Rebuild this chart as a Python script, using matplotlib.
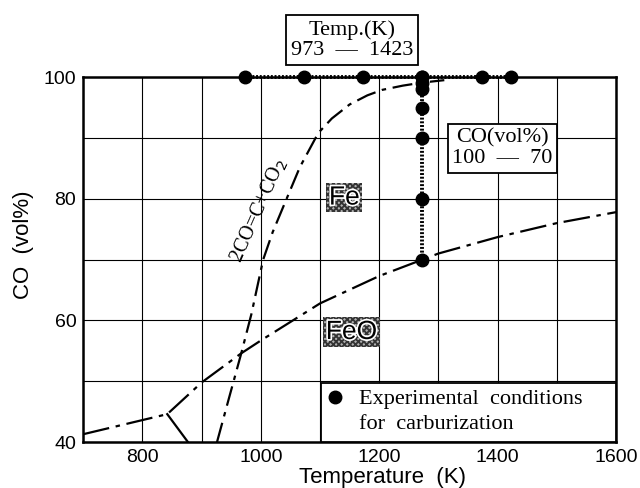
import matplotlib.pyplot as plt
import matplotlib.patheffects as pe
from matplotlib.patches import Rectangle

# experimental carburization conditions
temp_row = [973, 1073, 1173, 1273, 1373, 1423]
co_row = [100, 100, 100, 100, 100, 100]
temp_col = [1273, 1273, 1273, 1273, 1273, 1273, 1273]
co_col = [100, 99, 98, 95, 90, 80, 70]

# 2CO = C + CO2 equilibrium
boud_t = [926, 947, 967, 984, 1004, 1020, 1038, 1066, 1097, 1120, 1150, 1180, 1205, 1240, 1273, 1310]
boud_co = [40, 47.5, 54.6, 61, 70, 74.5, 78.7, 85.2, 90.8, 93.2, 95.5, 97.0, 97.9, 98.6, 99.1, 99.5]

# Fe / FeO boundary
feo_t = [700, 842, 900, 967, 1000, 1100, 1200, 1273, 1300, 1400, 1500, 1600]
feo_co = [41.3, 44.6, 49.8, 54.6, 56.7, 62.8, 67.3, 70, 71, 73.7, 76, 77.8]

# short branch below the kink
low_t = [842, 877]
low_co = [44.6, 40]

plt.rcParams['font.family'] = ['Liberation Sans', 'DejaVu Sans']
plt.rcParams['hatch.linewidth'] = 1.3
serif = 'Liberation Serif'

fig = plt.figure(figsize=(6.4, 4.88), dpi=100)
ax = fig.add_axes([0.130, 0.094, 0.8325, 0.748])

ax.set_xlim(700, 1600)
ax.set_ylim(40, 100)
ax.set_xticks(range(700, 1601, 100))
ax.set_xticklabels(['' if t % 200 else str(t) for t in range(700, 1601, 100)])
ax.set_yticks(range(40, 101, 10))
ax.set_yticklabels(['' if v % 20 else str(v) for v in range(40, 101, 10)])
ax.tick_params(length=0, labelsize=14, pad=5)
ax.grid(True, color='black', lw=0.8)
ax.set_axisbelow(True)
for s in ax.spines.values():
    s.set_linewidth(1.8)

ax.set_xlabel('Temperature  (K)', fontsize=16, labelpad=0)
ax.xaxis.set_label_coords(0.562, -0.068)
ax.set_ylabel('CO  (vol%)', fontsize=16, labelpad=2)
ax.yaxis.set_label_coords(-0.092, 0.54)

ax.plot(boud_t, boud_co, color='black', lw=1.6, ls=(0, (9, 3, 2, 3)))
ax.plot(feo_t, feo_co, color='black', lw=1.6, ls=(0, (12, 3, 2, 3)))
ax.plot(low_t, low_co, color='black', lw=1.6)

ax.plot(temp_row, co_row, color='black', lw=2.8, ls=(0, (0.5, 0.45)),
        marker='o', ms=9, clip_on=False, zorder=5)
ax.plot(temp_col, co_col, color='black', lw=2.8, ls=(0, (0.5, 0.45)),
        marker='o', ms=9, clip_on=False, zorder=5)

ax.text(997, 78, '2CO=C+CO$_2$', rotation=66, ha='center', va='center',
        fontsize=14.5, family=serif)

halo = [pe.withStroke(linewidth=2.5, foreground='white')]
for label, x, y in [('Fe', 1141, 80.2), ('FeO', 1153, 58.1)]:
    ax.text(x, y, label, ha='center', va='center', fontsize=19,
            path_effects=halo,
            bbox=dict(boxstyle='square,pad=0.1', facecolor='#b0b0b0',
                      edgecolor='#333333', lw=0, hatch='xxxxxx'))

box = dict(boxstyle='square,pad=0.2', facecolor='white', edgecolor='black', lw=1.3)
ax.text(1154, 106.1, 'Temp.(K)\n973  —  1423', ha='center', va='center',
        fontsize=16, family=serif, linespacing=1.1, bbox=box, clip_on=False)
ax.text(1408, 88.3, 'CO(vol%)\n100  —  70', ha='center', va='center',
        fontsize=16, family=serif, linespacing=1.1, bbox=box)

# legend panel reaching the right spine
ax.add_patch(Rectangle((1101, 40), 499, 9.8, facecolor='white',
                       edgecolor='black', lw=1.3, zorder=3))
h1, = ax.plot([], [], 'o', color='black', ms=9)
h2, = ax.plot([], [], ls='none')
leg = ax.legend([h1, h2], ['Experimental  conditions', 'for  carburization'],
                loc='lower left', bbox_to_anchor=(1101, 40),
                bbox_transform=ax.transData, borderaxespad=0, frameon=False,
                handlelength=0.6, handletextpad=0.8, labelspacing=0.2,
                borderpad=0.35, prop={'family': serif, 'size': 16})
leg.set_zorder(4)

fig.savefig('out.png', dpi=100)
